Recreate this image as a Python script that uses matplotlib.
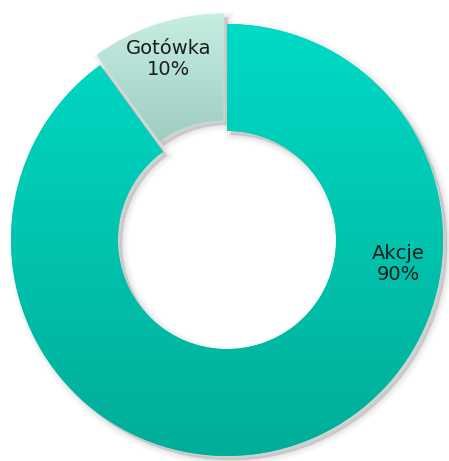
import matplotlib
matplotlib.use("Agg")
import matplotlib.pyplot as plt
import numpy as np
from matplotlib.colors import LinearSegmentedColormap
from matplotlib.patches import Wedge

labels = ["Akcje", "Gotówka"]
shares = [90, 10]
explode = [0.0, 0.05]
# top / bottom gradient colours per slice
grad_top = ["#00DAC5", "#C6EEE3"]
grad_bottom = ["#00AD98", "#9FCDC1"]
label_angle = [-8, None]      # None -> middle of slice
label_radius = [0.8, 0.83]

W, H = 449, 461
fig = plt.figure(figsize=(W / 100, H / 100), dpi=100)
ax = fig.add_axes([0, 0, 1, 1])
R = 216.0
cx, cy = 227.0, H - 240.0

wedges, _ = ax.pie(shares, explode=explode, startangle=90, counterclock=False,
                   radius=1.0, wedgeprops=dict(width=0.495, linewidth=0),
                   colors=grad_top, normalize=True)
ax.set_aspect("equal")
ax.axis("off")

# soft drop shadow, offset down-right
off = np.array([4.0, -4.0]) / R
for w in wedges:
    for lw, a in [(9, 0.03), (6, 0.04), (3, 0.06), (0.5, 0.09)]:
        sh = Wedge((w.center[0] + off[0], w.center[1] + off[1]), w.r,
                   w.theta1, w.theta2, width=w.width, facecolor="#555555",
                   edgecolor="#555555", linewidth=lw, alpha=a, zorder=0.5)
        ax.add_patch(sh)

grad = np.linspace(1, 0, 256).reshape(-1, 1)
for i, w in enumerate(wedges):
    w.set_zorder(1)
    ext = w.get_path().get_extents()
    cmap = LinearSegmentedColormap.from_list(f"g{i}", [grad_bottom[i], grad_top[i]])
    im = ax.imshow(grad, cmap=cmap, aspect="auto", zorder=2,
                   extent=[ext.x0, ext.x1, ext.y0, ext.y1], vmin=0, vmax=1)
    im.set_clip_path(w)

ax.set_xlim(-cx / R, (W - cx) / R)
ax.set_ylim(-cy / R, (H - cy) / R)

for i, w in enumerate(wedges):
    ang = label_angle[i]
    if ang is None:
        ang = (w.theta1 + w.theta2) / 2
    t = np.deg2rad(ang)
    x = w.center[0] + label_radius[i] * np.cos(t)
    y = w.center[1] + label_radius[i] * np.sin(t)
    ax.text(x, y, f"{labels[i]}\n{shares[i]}%", ha="center", va="center",
            fontsize=14, color="#1c1c1c", family="DejaVu Sans",
            linespacing=1.15, zorder=5)

fig.savefig("out.png", dpi=100, facecolor="white")
